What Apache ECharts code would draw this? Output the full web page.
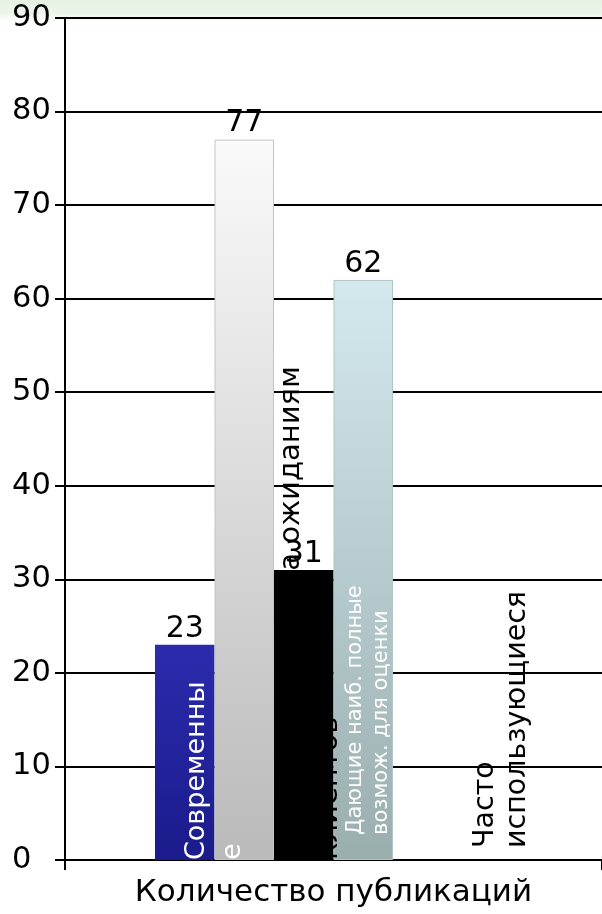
<!DOCTYPE html>
<html>
<head>
<meta charset="utf-8">
<style>
  html, body { margin: 0; padding: 0; background: #fff; }
  #chart { width: 602px; height: 914px; }
</style>
<script src="https://cdn.jsdelivr.net/npm/echarts@6/dist/echarts.min.js"></script>
</head>
<body>
<div id="chart"></div>
<script>
// Publication counts by kind of source
const categories = ['Количество публикаций'];
const seriesNames = [
  'Современные',
  'Широко известные',
  'Соответствующие ожиданиям',
  'Дающие наиб. полные возмож. для оценки',
  'Прочие',
  'Часто использующиеся'
];
const values = [23, 77, 31, 62, 0, 0];
// Rotated captions drawn at the foot of each bar (lines bottom-to-top)
const captions = [
  'Современны\nе',
  '',
  'Соответствующие а ожиданиям\nклиентов',
  'Дающие наиб. полные\nвозмож. для оценки',
  '',
  'Часто\nиспользующиеся'
];
const yTicks = { min: 0, max: 90, interval: 10 };

const FONT = 'DejaVu Sans';

const fills = [
  { type: 'linear', x: 0, y: 0, x2: 0, y2: 1, colorStops: [{ offset: 0, color: '#2b2bad' }, { offset: 1, color: '#1b1b8c' }] },
  { type: 'linear', x: 0, y: 0, x2: 0, y2: 1, colorStops: [{ offset: 0, color: '#fafafa' }, { offset: 1, color: '#bababa' }] },
  '#000000',
  { type: 'linear', x: 0, y: 0, x2: 0, y2: 1, colorStops: [{ offset: 0, color: '#d4e9ee' }, { offset: 1, color: '#9aaeae' }] },
  '#888888',
  '#888888'
];
const borders = ['#1b1b8c', '#c4c4c4', '#000000', '#b0c4c6', '#888', '#888'];
// caption styling: dx = sideways shift of the text block, dy = shift along the bar
const captionStyle = [
  { color: '#ffffff', size: 27, lh: 36, dx: 30, dy: 0 },
  { color: '#ffffff', size: 27, lh: 36, dx: 0, dy: 0 },
  { color: '#000000', size: 29, lh: 38, dx: 7, dy: 0 },
  { color: '#ffffff', size: 21, lh: 26, dx: 5, dy: 25 },
  { color: '#ffffff', size: 19, lh: 25, dx: 0, dy: 0 },
  { color: '#000000', size: 28.5, lh: 32, dx: 19, dy: 12 }
];

const series = values.map((v, i) => ({
  name: seriesNames[i],
  type: 'bar',
  data: [v],
  barWidth: 59.5,
  barGap: '0%',
  itemStyle: { color: fills[i], borderColor: borders[i], borderWidth: i === 1 || i === 3 ? 1 : 0 },
  label: {
    show: v > 0,
    position: 'top',
    distance: 1,
    color: '#000',
    fontFamily: FONT,
    fontSize: 30
  },
  markPoint: captions[i] ? {
    symbol: 'rect',
    symbolSize: 0,
    silent: true,
    itemStyle: { color: 'rgba(0,0,0,0)' },
    label: {
      show: true,
      formatter: captions[i],
      rotate: 90,
      position: 'inside',
      align: 'left',
      verticalAlign: 'middle',
      offset: [captionStyle[i].dy, captionStyle[i].dx],
      color: captionStyle[i].color,
      fontFamily: FONT,
      fontSize: captionStyle[i].size,
      lineHeight: captionStyle[i].lh
    },
    data: [{ coord: [0, 0] }]
  } : undefined
}));

const chart = echarts.init(document.getElementById('chart'));
chart.setOption({
  backgroundColor: '#ffffff',
  animation: false,
  graphic: [{
    type: 'rect',
    z: -10,
    silent: true,
    shape: { x: 0, y: 0, width: 602, height: 22 },
    style: {
      fill: { type: 'linear', x: 0, y: 0, x2: 0, y2: 1, colorStops: [
        { offset: 0, color: '#e6f1e2' }, { offset: 0.6, color: '#edf5ea' }, { offset: 1, color: '#ffffff' }
      ] }
    }
  }],
  grid: { left: 65, right: -3, top: 18, bottom: 54, containLabel: false },
  xAxis: {
    type: 'category',
    data: categories,
    axisLine: { show: true, lineStyle: { color: '#000', width: 2 } },
    axisTick: { show: true, length: 10, lineStyle: { color: '#000', width: 2 } },
    axisLabel: { color: '#000', fontFamily: FONT, fontSize: 31, margin: 17 }
  },
  yAxis: {
    type: 'value',
    min: yTicks.min,
    max: yTicks.max,
    interval: yTicks.interval,
    axisLine: { show: true, lineStyle: { color: '#000', width: 2 } },
    axisTick: { show: true, length: 10, lineStyle: { color: '#000', width: 2 } },
    axisLabel: { color: '#000', fontFamily: FONT, fontSize: 30.5, margin: 53, align: 'left' },
    splitLine: { show: true, lineStyle: { color: '#000', width: 2 } }
  },
  series: series
});
</script>
</body>
</html>
